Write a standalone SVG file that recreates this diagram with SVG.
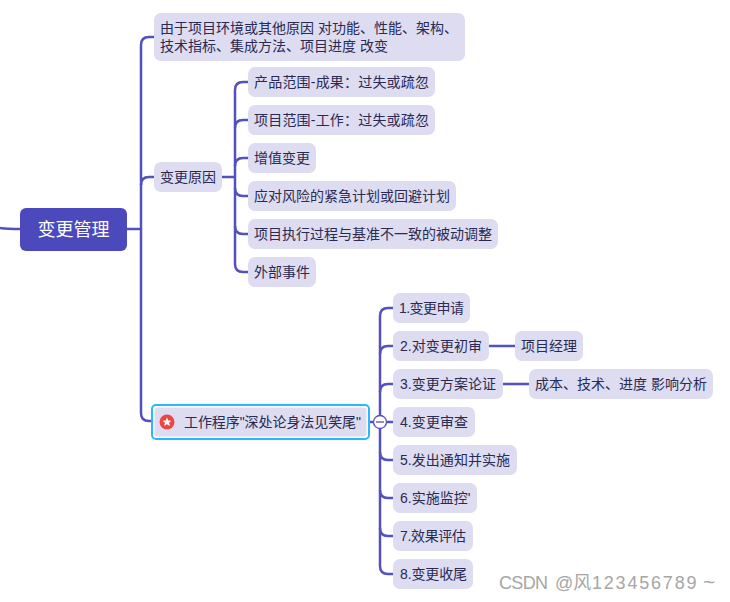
<svg xmlns="http://www.w3.org/2000/svg" width="730" height="602" viewBox="0 0 730 602">
<style>
.n{fill:#dddcf1}
.t{font-family:"Liberation Sans","Noto Sans CJK SC",sans-serif;font-size:14px;fill:#2a2a52}
.c{fill:none;stroke:#5350c0;stroke-width:2.500;stroke-linecap:butt}
</style>
<rect width="730" height="602" fill="#fff"/>
<g id="connectors">
<path class="c" d="M0 228Q8 229 20 229"/>
<path class="c" d="M127 229H141"/>
<path class="c" d="M154 37H149Q141 37 141 45V413Q141 421 149 421H152"/>
<path class="c" d="M141 185Q141 177 149 177H154"/>
<path class="c" d="M222 177H235"/>
<path class="c" d="M248 82H243Q235 82 235 90V264Q235 272 243 272H248"/>
<path class="c" d="M235 128Q235 120 243 120H248M235 166Q235 158 243 158H248M235 188Q235 196 243 196H248M235 226Q235 234 243 234H248"/>
<path class="c" d="M369 422H393"/>
<path class="c" d="M393 308H388Q380 308 380 316V566Q380 574 388 574H393"/>
<path class="c" d="M380 354Q380 346 388 346H393M380 392Q380 384 388 384H393M380 452Q380 460 388 460H393M380 490Q380 498 388 498H393M380 528Q380 536 388 536H393"/>
<path class="c" d="M489 346H515M503 384H529"/>
</g>
<g id="root"><rect x="20" y="208" width="107" height="43" rx="6" fill="#4c49bd"/><text x="73.500" y="236" text-anchor="middle" font-family="Noto Sans CJK SC,Liberation Sans,sans-serif" font-size="18" fill="#fff">变更管理</text></g>
<g id="n1"><rect class="n" x="154" y="13" width="311" height="48" rx="7"/><text class="t"><tspan x="160" y="33">由于项目环境或其他原因 对功能、性能、架构、</tspan><tspan x="160" y="51">技术指标、集成方法、项目进度 改变</tspan></text></g>
<g id="n2"><rect class="n" x="154" y="162" width="68" height="30" rx="7"/><text class="t" x="160" y="182">变更原因</text></g>
<g id="n3"><rect class="n" x="248" y="67" width="187" height="30" rx="7"/><text class="t" x="254" y="87" textLength="175">产品范围-成果：过失或疏忽</text></g>
<g id="n4"><rect class="n" x="248" y="105" width="187" height="30" rx="7"/><text class="t" x="254" y="125" textLength="175">项目范围-工作：过失或疏忽</text></g>
<g id="n5"><rect class="n" x="248" y="143" width="68" height="30" rx="7"/><text class="t" x="254" y="163">增值变更</text></g>
<g id="n6"><rect class="n" x="248" y="181" width="208" height="30" rx="7"/><text class="t" x="254" y="201">应对风险的紧急计划或回避计划</text></g>
<g id="n7"><rect class="n" x="248" y="219" width="250" height="30" rx="7"/><text class="t" x="254" y="239">项目执行过程与基准不一致的被动调整</text></g>
<g id="n8"><rect class="n" x="248" y="257" width="68" height="30" rx="7"/><text class="t" x="254" y="277">外部事件</text></g>
<g id="n9"><rect x="152" y="405" width="217" height="34" rx="4" fill="#fff" stroke="#2bb7fb" stroke-width="2"/><rect class="n" x="154.500" y="407.500" width="212" height="29" rx="3"/><circle cx="167" cy="422" r="7.500" fill="#ef4444"/><path d="M167 417.500l1.300 2.900 3.100.3-2.300 2.100.7 3.100-2.800-1.600-2.800 1.600.7-3.100-2.300-2.100 3.100-.3z" fill="#fff"/><text class="t" x="184" y="427" textLength="177" lengthAdjust="spacing">工作程序"深处论身法见笑尾"</text></g>
<g id="toggle"><circle cx="380" cy="422" r="6.500" fill="#fff" stroke="#5350c0" stroke-width="1.300"/><path d="M376 422H384" stroke="#5350c0" stroke-width="1.300"/></g>
<g id="s1"><rect class="n" x="393" y="293" width="77" height="30" rx="7"/><text class="t" x="399" y="313" textLength="65">1.变更申请</text></g>
<g id="s2"><rect class="n" x="393" y="331" width="96" height="30" rx="7"/><text class="t" x="400" y="351" textLength="82">2.对变更初审</text></g>
<g id="s2a"><rect class="n" x="515" y="331" width="68" height="30" rx="7"/><text class="t" x="521" y="351">项目经理</text></g>
<g id="s3"><rect class="n" x="393" y="369" width="110" height="30" rx="7"/><text class="t" x="400" y="389" textLength="96">3.变更方案论证</text></g>
<g id="s3a"><rect class="n" x="529" y="369" width="184" height="30" rx="7"/><text class="t" x="535" y="389" textLength="172">成本、技术、进度 影响分析</text></g>
<g id="s4"><rect class="n" x="393" y="407" width="82" height="30" rx="7"/><text class="t" x="400" y="427" textLength="68">4.变更审查</text></g>
<g id="s5"><rect class="n" x="393" y="445" width="124" height="30" rx="7"/><text class="t" x="400" y="465" textLength="110">5.发出通知并实施</text></g>
<g id="s6"><rect class="n" x="393" y="483" width="84" height="30" rx="7"/><text class="t" x="400" y="503">6.实施监控'</text></g>
<g id="s7"><rect class="n" x="393" y="521" width="80" height="30" rx="7"/><text class="t" x="400" y="541" textLength="66">7.效果评估</text></g>
<g id="s8"><rect class="n" x="393" y="559" width="80" height="30" rx="7"/><text class="t" x="400" y="579" textLength="67">8.变更收尾</text></g>
<text y="589" font-family="Liberation Sans,Noto Sans CJK SC,sans-serif" font-size="18" fill="#a6a6a6"><tspan x="499" textLength="49">CSDN</tspan><tspan x="555">@风</tspan><tspan x="592" letter-spacing="1.800">123456789</tspan><tspan x="703" font-size="21">~</tspan></text>
</svg>
